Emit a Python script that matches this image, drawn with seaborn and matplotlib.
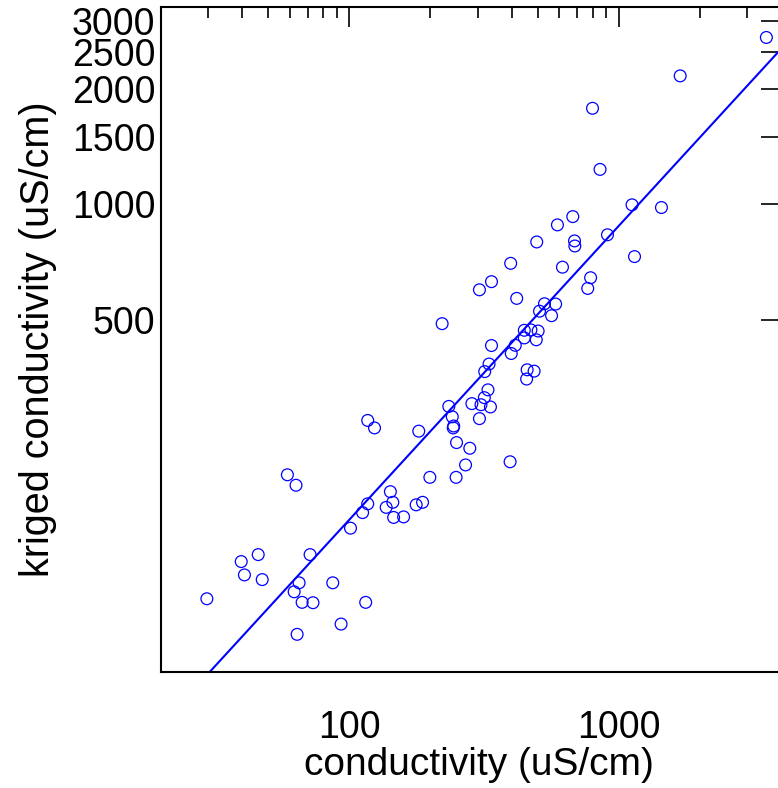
import numpy as np
import pandas as pd
import matplotlib
matplotlib.use("Agg")
import matplotlib.pyplot as plt
import matplotlib.ticker as mticker
import seaborn as sns

# ---- data ----
conductivity = [3530, 1690, 799, 852, 1120, 1440, 675, 592, 908, 685,
                687, 496, 397, 1144, 618, 786, 337, 304, 767, 418,
                530, 583, 508, 563, 221, 446, 472, 502, 446, 494,
                337, 413, 399, 330, 318, 457, 485, 455, 327, 317,
                285, 308, 334, 234, 241, 304, 244, 243, 117, 124,
                181, 250, 280, 395, 270, 199, 249, 58.9, 63.4, 142,
                145, 117, 137, 112, 177, 187, 146, 159, 101, 45.9,
                39.7, 71.5, 40.8, 47.5, 65.1, 62.4, 86.8, 29.6, 66.8, 73.3,
                115, 93.2, 64.0]
kriged = [2720, 2160, 1778, 1232, 996, 980, 928, 883, 832, 802,
          778, 797, 701, 730, 685, 643, 628, 598, 603, 568,
          550, 549, 526, 512, 488, 469, 470, 467, 448, 443,
          428, 428.5, 408, 383, 366, 370, 367, 350, 328, 313,
          302, 300, 296, 297, 279, 276, 264, 261, 273, 261,
          256, 239, 231, 213, 209, 194, 194, 197, 185, 178,
          167, 165.5, 162, 157, 164.5, 167, 152.5, 153, 143, 122,
          117, 122, 108, 105, 103, 97.6, 103, 93.6, 91.6, 91.4,
          91.6, 80.4, 75.6]

# fitted line in log-log space: log10(y) = fit_intercept + fit_slope * log10(x)
fit_intercept = 0.6454
fit_slope = 0.766

x_ticks_major = [100, 1000]
y_ticks = [500, 1000, 1500, 2000, 2500, 3000]
x_label = "conductivity (uS/cm)"
y_label = "kriged conductivity (uS/cm)"

# ---- styling ----
sns.set_style("white")
plt.rcParams["font.family"] = ["Liberation Sans", "DejaVu Sans"]
plt.rcParams["text.color"] = "black"
plt.rcParams["axes.labelcolor"] = "black"
plt.rcParams["xtick.color"] = "black"
plt.rcParams["ytick.color"] = "black"

BLUE = "#0000ff"

df = pd.DataFrame({"conductivity": conductivity, "kriged": kriged})
x_range = np.array([20.0, 4000.0])
line_df = pd.DataFrame({"x": x_range,
                        "y": 10 ** (fit_intercept + fit_slope * np.log10(x_range))})

fig = plt.figure(figsize=(7.78, 7.88), dpi=100)
ax = fig.add_axes([161 / 778, (788 - 672) / 788, 620 / 778, (672 - 7.3) / 788])

sns.lineplot(data=line_df, x="x", y="y", ax=ax, color=BLUE, linewidth=1.5)
sns.scatterplot(data=df, x="conductivity", y="kriged", ax=ax, marker="o",
                s=72, facecolor="none", edgecolor=BLUE, linewidth=0.9, zorder=3)

ax.set_xscale("log")
ax.set_yscale("log")
ax.set_xlim(20, 4000)
ax.set_ylim(60.3, 3260)

ax.xaxis.set_major_locator(mticker.FixedLocator(x_ticks_major))
ax.xaxis.set_minor_locator(mticker.LogLocator(base=10, subs=np.arange(2, 10)))
ax.xaxis.set_major_formatter(mticker.FixedFormatter([str(v) for v in x_ticks_major]))
ax.xaxis.set_minor_formatter(mticker.NullFormatter())

ax.yaxis.set_major_locator(mticker.FixedLocator(y_ticks))
ax.yaxis.set_minor_locator(mticker.NullLocator())
ax.yaxis.set_major_formatter(mticker.FixedFormatter([str(v) for v in y_ticks]))

for sp in ax.spines.values():
    sp.set_color("black")
    sp.set_linewidth(1.5)
    sp.set_visible(True)

ax.tick_params(axis="both", which="both", direction="in", top=True, right=True,
               color="black", labelcolor="black", width=1.2)
ax.tick_params(axis="both", which="major", length=14.5, labelsize=27)
ax.tick_params(axis="both", which="minor", length=8)
ax.tick_params(axis="x", which="major", pad=27)
ax.tick_params(axis="y", which="major", pad=4)

ax.set_xlabel(x_label, fontsize=28, labelpad=1, color="black")
ax.set_ylabel(y_label, fontsize=28.5, labelpad=11, color="black")
ax.xaxis.label.set_x(0.512)
ax.grid(False)

fig.savefig("out.png", dpi=100)
